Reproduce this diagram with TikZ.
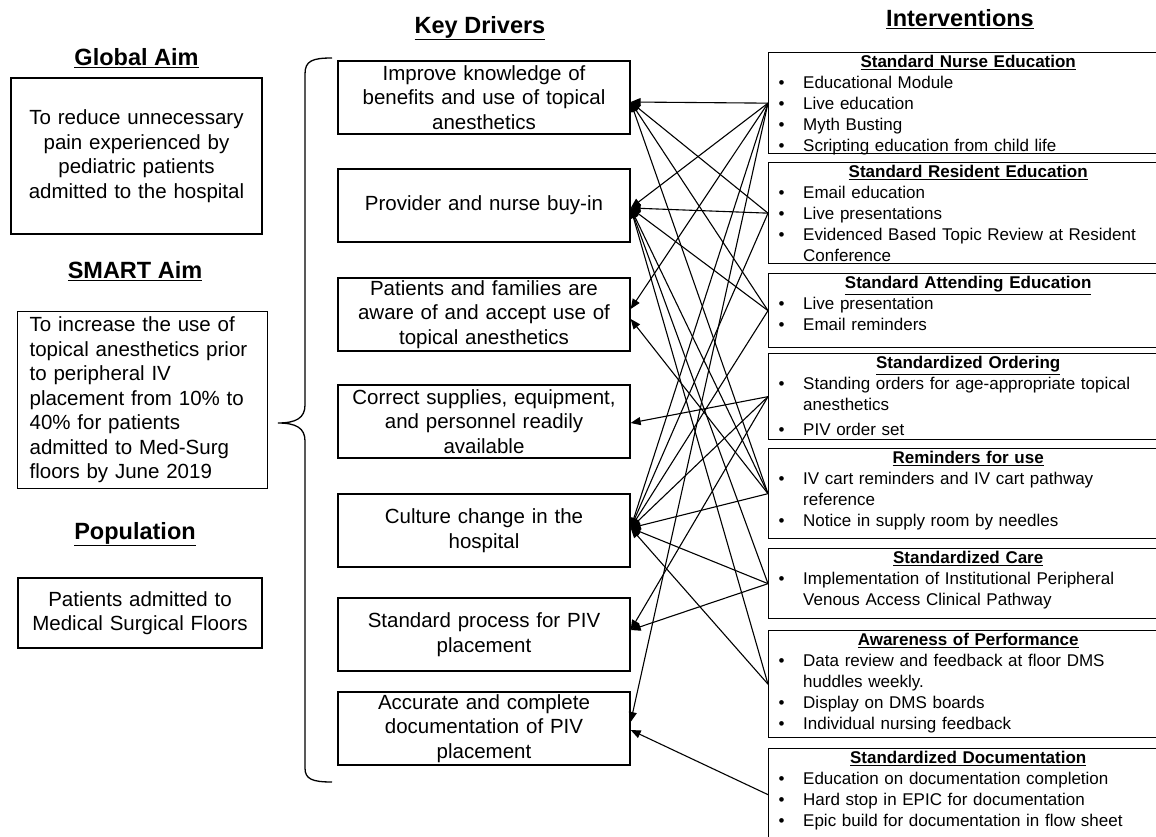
\documentclass[tikz,border=0pt]{standalone}
\usepackage{fontspec}
\setmainfont{Liberation Sans}
\usetikzlibrary{arrows.meta}
\newcommand\bitem[1]{\par\noindent\makebox[35pt][l]{\hspace{10.5pt}•}#1}
\newcommand\bcont[1]{\par\noindent\hspace*{35pt}#1}
\newcommand\ititle[1]{\noindent\makebox[\linewidth][c]{\textbf{\underline{#1}}}}
\begin{document}
\begin{tikzpicture}[x=1pt,y=-1pt,
  box/.style={draw, line width=1.3pt, inner sep=0pt},
  driver/.style={box, minimum width=292pt, minimum height=73pt, text width=288pt, align=center, font=\fontsize{20.5}{24.5}\selectfont},
  ibox/.style={box, anchor=north west, minimum width=388pt},
  icontent/.style={anchor=north west, inner sep=0pt, text width=400pt, font=\fontsize{17}{20.8}\selectfont},
  heading/.style={font=\fontsize{23.5}{28}\selectfont\bfseries, inner sep=0pt},
  aimtext/.style={font=\fontsize{20.5}{24.5}\selectfont},
  link/.style={line width=1.1pt, -{Triangle[length=10pt,width=8pt]}},
]
\useasboundingbox (0,0) rectangle (1156,837);

% headings
\node[heading] (hglobal) at (136.5,58) {\underline{Global Aim}};
\node[heading] (hsmart) at (135,271) {\underline{SMART Aim}};
\node[heading] (hpop) at (135,534) {\underline{Population}};
\node[heading] (hkey) at (480,28) {\underline{Key Drivers}};
\node[heading] (hint) at (960,19) {\underline{Interventions}};

% left column
\node[box, aimtext, minimum width=251pt, minimum height=156pt, text width=245pt, align=center] (gbox) at (136.5,156)
  {To reduce unnecessary\\pain experienced by\\pediatric patients\\admitted to the hospital};
\node[box, aimtext, anchor=north west, minimum width=250pt, minimum height=177pt, inner xsep=12pt, text width=226pt, align=left] (sbox) at (17,311)
  {To increase the use of\\topical anesthetics prior\\to peripheral IV\\placement from 10\% to\\40\% for patients\\admitted to Med-Surg\\floors by June 2019};
\node[box, aimtext, minimum width=244pt, minimum height=70pt, text width=240pt, align=center] (pbox) at (140,613)
  {Patients admitted to\\Medical Surgical Floors};

% brace
\draw[line width=1.3pt] (332,58) .. controls (312,58) and (305,61) .. (305,74) -- (305,405)
  .. controls (305,418) and (296,423) .. (278,423)
  .. controls (296,423) and (305,428) .. (305,441) -- (305,768)
  .. controls (305,779) and (312,782) .. (332,782);

% drivers
\node[driver] (d1) at (484,97.5) {Improve knowledge of\\benefits and use of topical\\anesthetics};
\node[driver] (d2) at (484,205.5) {Provider and nurse buy-in};
\node[driver] (d3) at (484,314.5) {Patients and families are\\aware of and accept use of\\topical anesthetics};
\node[driver] (d4) at (484,421.5) {Correct supplies, equipment,\\and personnel readily\\available};
\node[driver] (d5) at (484,530.5) {Culture change in the\\hospital};
\node[driver] (d6) at (484,634.5) {Standard process for PIV\\placement};
\node[driver] (d7) at (484,728.5) {Accurate and complete\\documentation of PIV\\placement};

% intervention boxes
\node[ibox, minimum height=101pt] (i1) at (768,52) {};
\node[ibox, minimum height=101pt] (i2) at (768,162) {};
\node[ibox, minimum height=74pt] (i3) at (768,273) {};
\node[ibox, minimum height=86pt] (i4) at (768,353) {};
\node[ibox, minimum height=90pt] (i5) at (768,448) {};
\node[ibox, minimum height=70pt] (i6) at (768,548) {};
\node[ibox, minimum height=107pt] (i7) at (768,630) {};
\node[ibox, minimum height=92pt] (i8) at (768,748) {};

\node[icontent] (c1) at (768,55.4) {\ititle{Standard Nurse Education}
  \bitem{Educational Module}\bitem{Live education}\bitem{Myth Busting}\bitem{Scripting education from child life}};
\node[icontent] (c2) at (768,165.4) {\ititle{Standard Resident Education}
  \bitem{Email education}\bitem{Live presentations}\bitem{Evidenced Based Topic Review at Resident}\bcont{Conference}};
\node[icontent] (c3) at (768,276.4) {\ititle{Standard Attending Education}
  \bitem{Live presentation}\bitem{Email reminders}};
\node[icontent] (c4) at (768,356.4) {\ititle{Standardized Ordering}
  \bitem{Standing orders for age-appropriate topical}\bcont{anesthetics}\par\vspace{4pt}\bitem{PIV order set}};
\node[icontent] (c5) at (768,451.4) {\ititle{Reminders for use}
  \bitem{IV cart reminders and IV cart pathway}\bcont{reference}\bitem{Notice in supply room by needles}};
\node[icontent] (c6) at (768,551.4) {\ititle{Standardized Care}
  \bitem{Implementation of Institutional Peripheral}\bcont{Venous Access Clinical Pathway}};
\node[icontent] (c7) at (768,633.4) {\ititle{Awareness of Performance}
  \bitem{Data review and feedback at floor DMS}\bcont{huddles weekly.}\bitem{Display on DMS boards}\bitem{Individual nursing feedback}};
\node[icontent] (c8) at (768,751.4) {\ititle{Standardized Documentation}
  \bitem{Education on documentation completion}\bitem{Hard stop in EPIC for documentation}\bitem{Epic build for documentation in flow sheet}};

% arrow targets
\coordinate (t1) at ([yshift=-4.5pt]d1.east);
\coordinate (t2) at ([yshift=-2.5pt]d2.east);
\coordinate (t3a) at ([yshift=5.5pt]d3.east);
\coordinate (t3b) at ([yshift=-4.5pt]d3.east);
\coordinate (t4) at ([yshift=-1.5pt]d4.east);
\coordinate (t5) at ([yshift=2.5pt]d5.east);
\coordinate (t6) at ([yshift=4.5pt]d6.east);
\coordinate (t7a) at ([yshift=6.5pt]d7.east);
\coordinate (t7b) at ([yshift=-1.5pt]d7.east);

% connectors
\foreach \t in {t1,t2,t3a,t5,t7a} \draw[link] (i1.west) -- (\t);
\foreach \t in {t1,t2,t5} \draw[link] (i2.west) -- (\t);
\foreach \t in {t1,t2,t5} \draw[link] (i3.west) -- (\t);
\foreach \t in {t4,t5,t6} \draw[link] (i4.west) -- (\t);
\foreach \t in {t1,t2,t3b,t5} \draw[link] (i5.west) -- (\t);
\foreach \t in {t2,t5,t6} \draw[link] (i6.west) -- (\t);
\foreach \t in {t2,t5} \draw[link] (i7.west) -- (\t);
\draw[link] (i8.west) -- (t7b);
\end{tikzpicture}
\end{document}
